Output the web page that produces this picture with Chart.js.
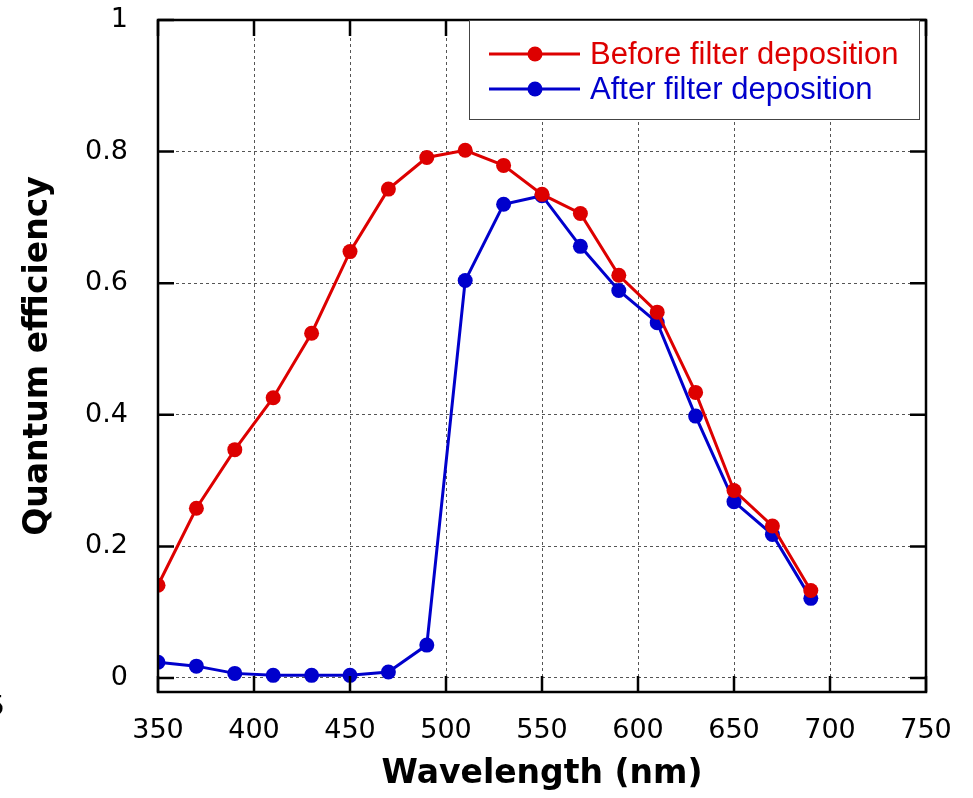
<!DOCTYPE html>
<html>
<head>
<meta charset="utf-8">
<script src="https://cdn.jsdelivr.net/npm/chart.js@4/dist/chart.umd.min.js"></script>
<style>
  html, body { margin: 0; padding: 0; background: #fff; }
  #wrap { width: 973px; height: 798px; }
</style>
</head>
<body>
<div id="wrap"><canvas id="qe"></canvas></div>
<script>
// wavelengths (nm)
const wavelengths = [350, 370, 390, 410, 430, 450, 470, 490, 510, 530, 550, 570, 590, 610, 630, 650, 670, 690];
const beforeQE = [0.141, 0.258, 0.347, 0.426, 0.524, 0.648, 0.743, 0.791, 0.802, 0.779, 0.735, 0.706, 0.612, 0.556, 0.434, 0.285, 0.231, 0.133];
const afterQE = [0.024, 0.018, 0.007, 0.004, 0.004, 0.004, 0.009, 0.050, 0.604, 0.720, 0.733, 0.656, 0.589, 0.540, 0.398, 0.268, 0.218, 0.121];
const yTicks = [0, 0.2, 0.4, 0.6, 0.8, 1];
const xTicks = [350, 400, 450, 500, 550, 600, 650, 700, 750];

const RED = '#dd0000';
const BLUE = '#0000cc';
const TICK_FONT = '"DejaVu Sans", sans-serif';

const toPoints = (ys) => wavelengths.map((x, i) => ({ x, y: ys[i] }));

// gnuplot-ish frame + inward ticks on all four sides
const framePlugin = {
  id: 'frame',
  afterDatasetsDraw(chart) {
    const { ctx, chartArea: a, scales } = chart;
    const len = 16;
    ctx.save();
    ctx.strokeStyle = '#000';
    ctx.lineWidth = 2.5;
    ctx.beginPath();
    for (const v of xTicks) {
      const px = scales.x.getPixelForValue(v);
      ctx.moveTo(px, a.bottom); ctx.lineTo(px, a.bottom - len);
      ctx.moveTo(px, a.top); ctx.lineTo(px, a.top + len);
    }
    for (const v of yTicks) {
      const py = scales.y.getPixelForValue(v);
      ctx.moveTo(a.left, py); ctx.lineTo(a.left + len, py);
      ctx.moveTo(a.right, py); ctx.lineTo(a.right - len, py);
    }
    ctx.stroke();
    ctx.strokeRect(a.left, a.top, a.right - a.left, a.bottom - a.top);
    // clipped glyph at the left edge of the original figure
    ctx.fillStyle = '#000';
    ctx.font = '27px ' + TICK_FONT;
    ctx.textAlign = 'right';
    ctx.textBaseline = 'middle';
    ctx.fillText('5', 5, 708);
    ctx.restore();
  },
};

// legend box with line + marker samples, top right
const legendPlugin = {
  id: 'qeLegend',
  afterDraw(chart) {
    const { ctx } = chart;
    const box = { x: 469, y: 20, w: 450, h: 99 };
    ctx.save();
    ctx.fillStyle = '#fff';
    ctx.fillRect(box.x, box.y, box.w, box.h);
    ctx.strokeStyle = '#444';
    ctx.lineWidth = 1;
    ctx.strokeRect(box.x + 0.5, box.y + 0.5, box.w, box.h);
    ctx.font = '31px "Liberation Sans", Arial, sans-serif';
    ctx.textBaseline = 'middle';
    chart.data.datasets.forEach((ds, i) => {
      const cy = 54 + i * 35;
      ctx.strokeStyle = ds.borderColor;
      ctx.lineWidth = 3;
      ctx.beginPath();
      ctx.moveTo(489, cy); ctx.lineTo(580, cy);
      ctx.stroke();
      ctx.fillStyle = ds.backgroundColor;
      ctx.beginPath();
      ctx.arc(535, cy, 7.5, 0, Math.PI * 2);
      ctx.fill();
      ctx.fillText(ds.label, 590, cy + 1);
    });
    ctx.restore();
  },
};

new Chart(document.getElementById('qe'), {
  type: 'line',
  data: {
    datasets: [
      {
        label: 'Before filter deposition',
        data: toPoints(beforeQE),
        borderColor: RED,
        backgroundColor: RED,
        borderWidth: 3,
        pointRadius: 7.5,
        pointBorderWidth: 0,
      },
      {
        label: 'After filter deposition',
        data: toPoints(afterQE),
        borderColor: BLUE,
        backgroundColor: BLUE,
        borderWidth: 3,
        pointRadius: 7.5,
        pointBorderWidth: 0,
      },
    ],
  },
  options: {
    responsive: true,
    maintainAspectRatio: false,
    animation: false,
    layout: { padding: { top: 20, right: 47, left: 0, bottom: 0 } },
    plugins: {
      legend: { display: false },
      tooltip: { enabled: false },
    },
    scales: {
      x: {
        type: 'linear',
        min: 350,
        max: 750,
        afterBuildTicks: (s) => { s.ticks = xTicks.map(v => ({ value: v })); },
        afterFit: (s) => { s.height = 106; s.paddingLeft = 0; s.paddingRight = 0; },
        grid: { color: '#555', lineWidth: 1, drawTicks: false },
        border: { display: false, dash: [3, 3] },
        ticks: {
          color: '#000',
          padding: 23,
          font: { family: TICK_FONT, size: 27 },
        },
        title: {
          display: true,
          text: 'Wavelength (nm)',
          color: '#000',
          padding: { top: 4, bottom: 4 },
          font: { family: TICK_FONT, size: 33, weight: 'bold' },
        },
      },
      y: {
        type: 'linear',
        min: -0.0213,
        max: 1,
        afterBuildTicks: (s) => { s.ticks = yTicks.map(v => ({ value: v })); },
        afterFit: (s) => { s.width = 158; s.paddingTop = 0; s.paddingBottom = 0; },
        grid: { color: '#555', lineWidth: 1, drawTicks: false },
        border: { display: false, dash: [3, 3] },
        ticks: {
          color: '#000',
          padding: 30,
          callback: (v) => String(v),
          font: { family: TICK_FONT, size: 27 },
        },
        title: {
          display: true,
          text: 'Quantum efficiency',
          color: '#000',
          padding: { top: 19, bottom: 19 },
          font: { family: TICK_FONT, size: 33, weight: 'bold' },
        },
      },
    },
  },
  plugins: [framePlugin, legendPlugin],
});
</script>
</body>
</html>
